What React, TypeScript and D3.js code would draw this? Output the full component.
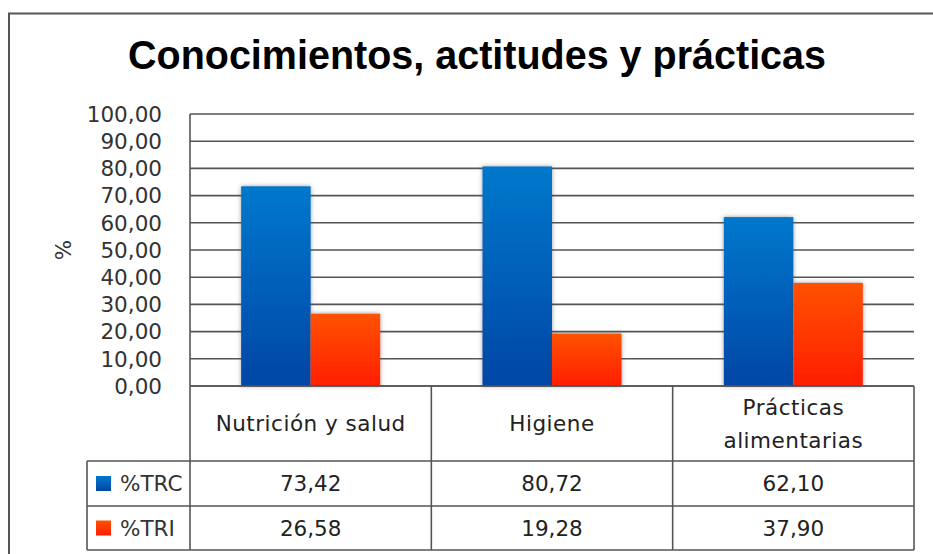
import React from "react";
import * as d3 from "d3";

const categories = ["Nutrición y salud", "Higiene", "Prácticas alimentarias"];
const categoryLines = [["Nutrición y salud"], ["Higiene"], ["Prácticas", "alimentarias"]];
const seriesNames = ["%TRC", "%TRI"];
const trc = [73.42, 80.72, 62.1];
const tri = [26.58, 19.28, 37.9];
const yTicks = [0, 10, 20, 30, 40, 50, 60, 70, 80, 90, 100];
const title = "Conocimientos, actitudes y prácticas";
const yLabel = "%";

const W = 933;
const H = 554;
const plotL = 190;
const plotR = 914;
const plotT = 114;
const plotB = 386;
const tableL = 87;
const rowLines = [461, 506, 550];
const gridColor = "#555";
const fontFam = "'DejaVu Sans', sans-serif";
const fs = 21.5;

const fmt = (v: number) => v.toFixed(2).replace(".", ",");

export default function App() {
  const y = d3.scaleLinear().domain([0, 100]).range([plotB, plotT]);
  const x0 = d3.scaleBand<string>().domain(categories).range([plotL, plotR]).padding(0);
  const groupW = x0.bandwidth() * 0.576;
  const x1 = d3.scaleBand<string>().domain(seriesNames).range([0, groupW]).padding(0);
  const seriesVals = [trc, tri];
  const grads = ["gBlue", "gRed"];

  return (
    <div style={{ position: "absolute", left: 0, top: 0, width: W, height: H, overflow: "hidden", background: "#fff" }}>
      <svg width={W} height={H} style={{ display: "block" }}>
        <defs>
          <linearGradient id="gBlue" x1="0" y1="0" x2="0" y2="1">
            <stop offset="0" stopColor="#0078cc" />
            <stop offset="1" stopColor="#0046a6" />
          </linearGradient>
          <linearGradient id="gRed" x1="0" y1="0" x2="0" y2="1">
            <stop offset="0" stopColor="#ff5200" />
            <stop offset="1" stopColor="#ff1e00" />
          </linearGradient>
          <filter id="shadow" x="-20%" y="-10%" width="140%" height="120%">
            <feDropShadow dx="0" dy="0" stdDeviation="2" floodColor="#444" floodOpacity="0.55" />
          </filter>
        </defs>
        <rect x={0} y={0} width={W} height={H} fill="#fff" />
        <rect x={9} y={13.5} width={W + 20} height={H + 20} fill="none" stroke="#555" strokeWidth={2} />

        <text x={477} y={69} textAnchor="middle" fontFamily="'Liberation Sans', Arial, sans-serif" fontWeight="bold" fontSize={40} textLength={698} lengthAdjust="spacingAndGlyphs" fill="#000">
          {title}
        </text>

        {yTicks.map((t) => (
          <line key={"g" + t} x1={plotL} x2={plotR} y1={y(t)} y2={y(t)} stroke={gridColor} strokeWidth={1.6} />
        ))}
        {yTicks.map((t) => (
          <text key={"t" + t} x={162} y={y(t)} dy="0.36em" textAnchor="end" fontFamily={fontFam} fontSize={fs} fill="#333">
            {fmt(t)}
          </text>
        ))}
        <text transform={`translate(63,${(plotT + plotB) / 2}) rotate(-90)`} textAnchor="middle" dy="0.36em" fontFamily={fontFam} fontSize={fs} fill="#333">
          {yLabel}
        </text>

        {categories.map((c, ci) => {
          const gx = (x0(c) as number) + (x0.bandwidth() - groupW) / 2;
          return seriesNames.map((s, si) => {
            const v = seriesVals[si][ci];
            return (
              <rect
                key={c + s}
                x={gx + (x1(s) as number)}
                y={y(v)}
                width={x1.bandwidth()}
                height={y(0) - y(v)}
                fill={`url(#${grads[si]})`}
                filter="url(#shadow)"
              />
            );
          });
        })}

        <line x1={plotL} x2={plotL} y1={plotT} y2={rowLines[2]} stroke={gridColor} strokeWidth={1.6} />
        {categories.map((c, ci) => {
          const xr = (x0(c) as number) + x0.bandwidth();
          return <line key={"v" + ci} x1={xr} x2={xr} y1={plotB} y2={rowLines[2]} stroke={gridColor} strokeWidth={1.6} />;
        })}
        <line x1={plotL} x2={plotR} y1={plotB} y2={plotB} stroke={gridColor} strokeWidth={1.6} />
        {rowLines.map((ry) => (
          <line key={"r" + ry} x1={tableL} x2={plotR} y1={ry} y2={ry} stroke={gridColor} strokeWidth={1.6} />
        ))}
        <line x1={tableL} x2={tableL} y1={rowLines[0]} y2={rowLines[2]} stroke={gridColor} strokeWidth={1.6} />

        {categories.map((c, ci) => {
          const cx = (x0(c) as number) + x0.bandwidth() / 2;
          const lines = categoryLines[ci];
          const mid = (plotB + rowLines[0]) / 2;
          const lh = 33;
          return lines.map((ln, li) => (
            <text
              key={c + li}
              x={cx}
              y={mid + (li - (lines.length - 1) / 2) * lh}
              dy="0.36em"
              textAnchor="middle"
              fontFamily={fontFam}
              fontSize={fs}
              letterSpacing={0.5}
              fill="#222"
            >
              {ln}
            </text>
          ));
        })}

        {seriesNames.map((s, si) => {
          const top = rowLines[si];
          const bot = rowLines[si + 1];
          const mid = (top + bot) / 2;
          return (
            <g key={"row" + s}>
              <rect x={96} y={mid - 7.5} width={15} height={15} fill={`url(#${grads[si]})`} />
              <text x={120} y={mid} dy="0.36em" fontFamily={fontFam} fontSize={fs} fill="#333">
                {s}
              </text>
              {categories.map((c, ci) => (
                <text
                  key={s + c}
                  x={(x0(c) as number) + x0.bandwidth() / 2}
                  y={mid}
                  dy="0.36em"
                  textAnchor="middle"
                  fontFamily={fontFam}
                  fontSize={fs}
                  fill="#222"
                >
                  {fmt(seriesVals[si][ci])}
                </text>
              ))}
            </g>
          );
        })}
      </svg>
    </div>
  );
}
